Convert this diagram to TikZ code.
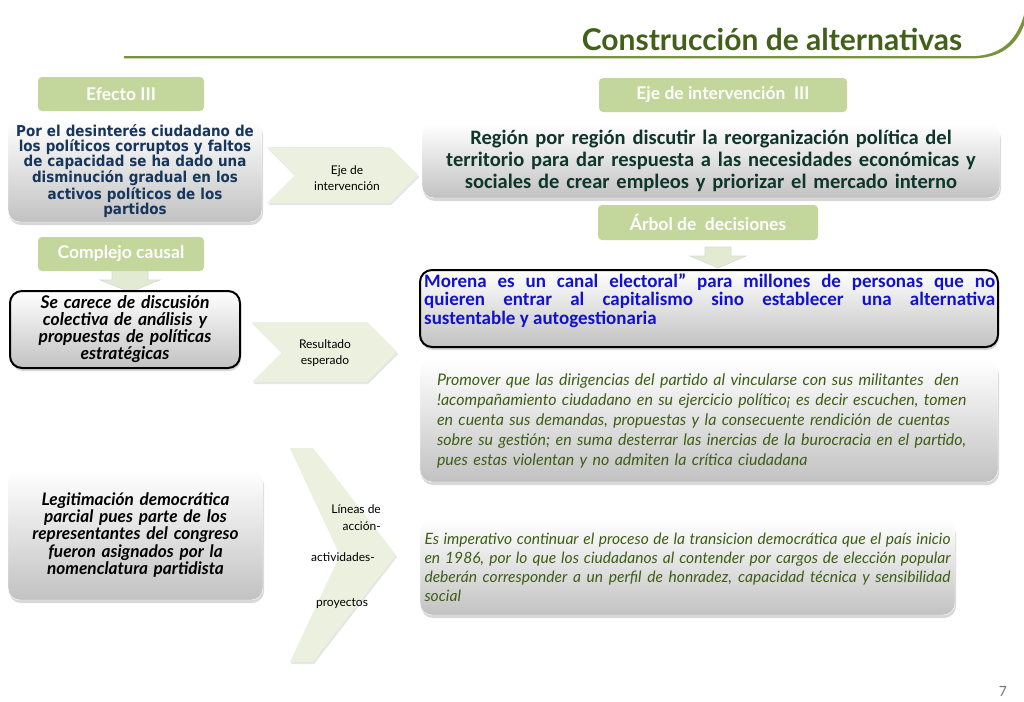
\documentclass[tikz,border=0pt]{standalone}
\usepackage{fontspec}
\setmainfont{Lato}
\newfontfamily\calfont{Carlito}
\newfontfamily\tahfont[FakeStretch=0.9]{DejaVu Sans}
\usetikzlibrary{positioning,shadows}
\definecolor{titlegreen}{RGB}{66,96,26}
\definecolor{rulegreen}{RGB}{119,147,60}
\definecolor{tabgreen}{RGB}{195,214,155}
\definecolor{chevfill}{RGB}{235,241,222}
\definecolor{arrowfill}{RGB}{226,234,210}
\definecolor{navytext}{RGB}{23,54,93}
\definecolor{tealtext}{RGB}{14,54,42}
\definecolor{olivetext}{RGB}{62,94,22}
\definecolor{morenablue}{RGB}{18,18,205}

\begin{document}
\begin{tikzpicture}[x=1pt, y=-1pt,
		tab/.style={fill=tabgreen, rounded corners=4pt, inner sep=0pt, text=white,
			font=\bfseries\fontsize{17.5}{19}\selectfont},
		gbox/.style={rounded corners=12pt, top color=white, bottom color=black!24,
			draw=white, inner sep=0pt, align=center,
			drop shadow={shadow xshift=1pt, shadow yshift=-3pt, opacity=.3}},
		edged/.style={draw=black, line width=2pt},
		chev/.style={fill=chevfill,
			drop shadow={shadow xshift=1pt, shadow yshift=-2pt, opacity=.2}},
		chevtxt/.style={inner sep=0pt, align=center, font=\fontsize{12}{16}\selectfont},
		blockarr/.style={fill=arrowfill, draw=black!15, line width=.6pt}]
	\useasboundingbox (0,0) rectangle (1024,701);
	\fill[white] (0,0) rectangle (1024,701);

	% title and swoosh rule
	\node[anchor=base, text=titlegreen, font=\bfseries\fontsize{30}{34}\selectfont]
		(title) at (772,51) {Construcción de alternativas};
	\fill[rulegreen] (124,56.2) -- (972,56.2) .. controls (1000,55.5) and (1016,42) .. (1024,15)
		-- (1024,25) .. controls (1016,46) and (1000,58.4) .. (972,58.4) -- (124,58.4) -- cycle;

	% left column
	\node[tab, minimum width=166, minimum height=34] (efecto) at (121,94) {Efecto III};
	\node[gbox, minimum width=254, minimum height=102, text width=252, text=navytext,
		font=\tahfont\bfseries\fontsize{15}{15}\selectfont] (desinteres) at (135,171)
		{Por el desinterés ciudadano de\\ los políticos corruptos y faltos\\
		 de capacidad se ha dado una\\ disminución gradual en los\\
		 activos políticos de los\\ partidos};

	\fill[blockarr] (112,268) -- (148,268) -- (148,280) -- (160,280) -- (130,292)
		-- (100,280) -- (112,280) -- cycle;
	\node[tab, minimum width=166, minimum height=34] (complejo) at (121,254) {Complejo causal};
	\node[gbox, edged, minimum width=230, minimum height=77, text width=226,
		font=\bfseries\itshape\fontsize{17.5}{17}\selectfont] (carece) at (125,329.5)
		{Se carece de discusión\\ colectiva de análisis y\\ propuestas de políticas\\ estratégicas};

	\node[gbox, minimum width=255, minimum height=130, text width=252,
		font=\bfseries\itshape\fontsize{17.2}{17.2}\selectfont] (legitimacion) at (135.5,535)
		{Legitimación democrática\\ parcial pues parte de los\\ representantes del congreso\\
		 fueron asignados por la\\ nomenclatura partidista};

	% chevrons
	\path[chev] (267,147) -- (390,147) -- (418,175) -- (390,203) -- (267,203) -- (295,175) -- cycle;
	\node[chevtxt] (ejeTxt) at (347,178) {Eje de\\ intervención};
	\path[chev] (252,322) -- (367,322) -- (397,352) -- (367,382) -- (252,382) -- (282,352) -- cycle;
	\node[chevtxt] (resultadoTxt) at (325,353) {Resultado\\ esperado};
	\path[chev] (290,448) -- (313,448) -- (396,555) -- (313,662) -- (290,662) -- (340,555) -- cycle;
	\node[chevtxt, align=right, anchor=east, font=\fontsize{12}{17}\selectfont]
		(lineasTxt) at (381,518) {Líneas de\\ acción-};
	\node[chevtxt] (actividadesTxt) at (343,557) {actividades-};
	\node[chevtxt] (proyectosTxt) at (342,603) {proyectos};

	% right column
	\node[tab, minimum width=248, minimum height=34] (ejeTab) at (723,95)
		{Eje de intervención\ \ III};
	\node[gbox, minimum width=578, minimum height=74, text width=574, text=tealtext,
		font=\calfont\bfseries\fontsize{20.5}{22}\selectfont] (region) at (711,161)
		{Región por región discutir la reorganización política del\\
		 territorio para dar respuesta a las necesidades económicas y\\
		 sociales de crear empleos y priorizar el mercado interno};

	\node[tab, minimum width=220, minimum height=35] (arbol) at (708,222.5)
		{Árbol de\ \ decisiones};
	\fill[blockarr] (705,247) -- (731,247) -- (731,256) -- (746,256) -- (718,268)
		-- (690,256) -- (705,256) -- cycle;

	\node[gbox, edged, minimum width=578, minimum height=77] (morena) at (709,308.5) {};
	\node[below right=4pt and 5pt of morena.north west, anchor=north west, inner sep=0pt,
		text width=571, align=justify, text=morenablue,
		font=\calfont\bfseries\fontsize{19}{18.5}\selectfont] (morenaTxt)
		{Morena es un canal electoral” para millones de personas que no\linebreak
		 quieren entrar al capitalismo sino establecer una alternativa\linebreak
		 sustentable y autogestionaria};

	\node[gbox, minimum width=578, minimum height=122, text width=544, align=left,
		text=olivetext, font=\itshape\fontsize{16}{20}\selectfont] (promover) at (709,421)
		{Promover que las dirigencias del partido al vincularse con sus militantes\ \ den\\
		 !acompañamiento ciudadano en su ejercicio político¡ es decir escuchen, tomen\\
		 en cuenta sus demandas, propuestas y la consecuente rendición de cuentas\\
		 sobre su gestión; en suma desterrar las inercias de la burocracia en el partido,\\
		 pues estas violentan y no admiten la crítica ciudadana};

	\node[gbox, minimum width=535, minimum height=95, text width=526, align=justify,
		text=olivetext, font=\itshape\fontsize{15.6}{19}\selectfont] (imperativo) at (687.5,567.5)
		{Es imperativo continuar el proceso de la transicion democrática que el país inicio\linebreak
		 en 1986, por lo que los ciudadanos al contender por cargos de elección popular\linebreak
		 deberán corresponder a un perfil de honradez, capacidad técnica y sensibilidad\linebreak
		 social};

	\node[text=black!55, font=\fontsize{14}{16}\selectfont] (pagenum) at (1003,691) {7};
\end{tikzpicture}
\end{document}
